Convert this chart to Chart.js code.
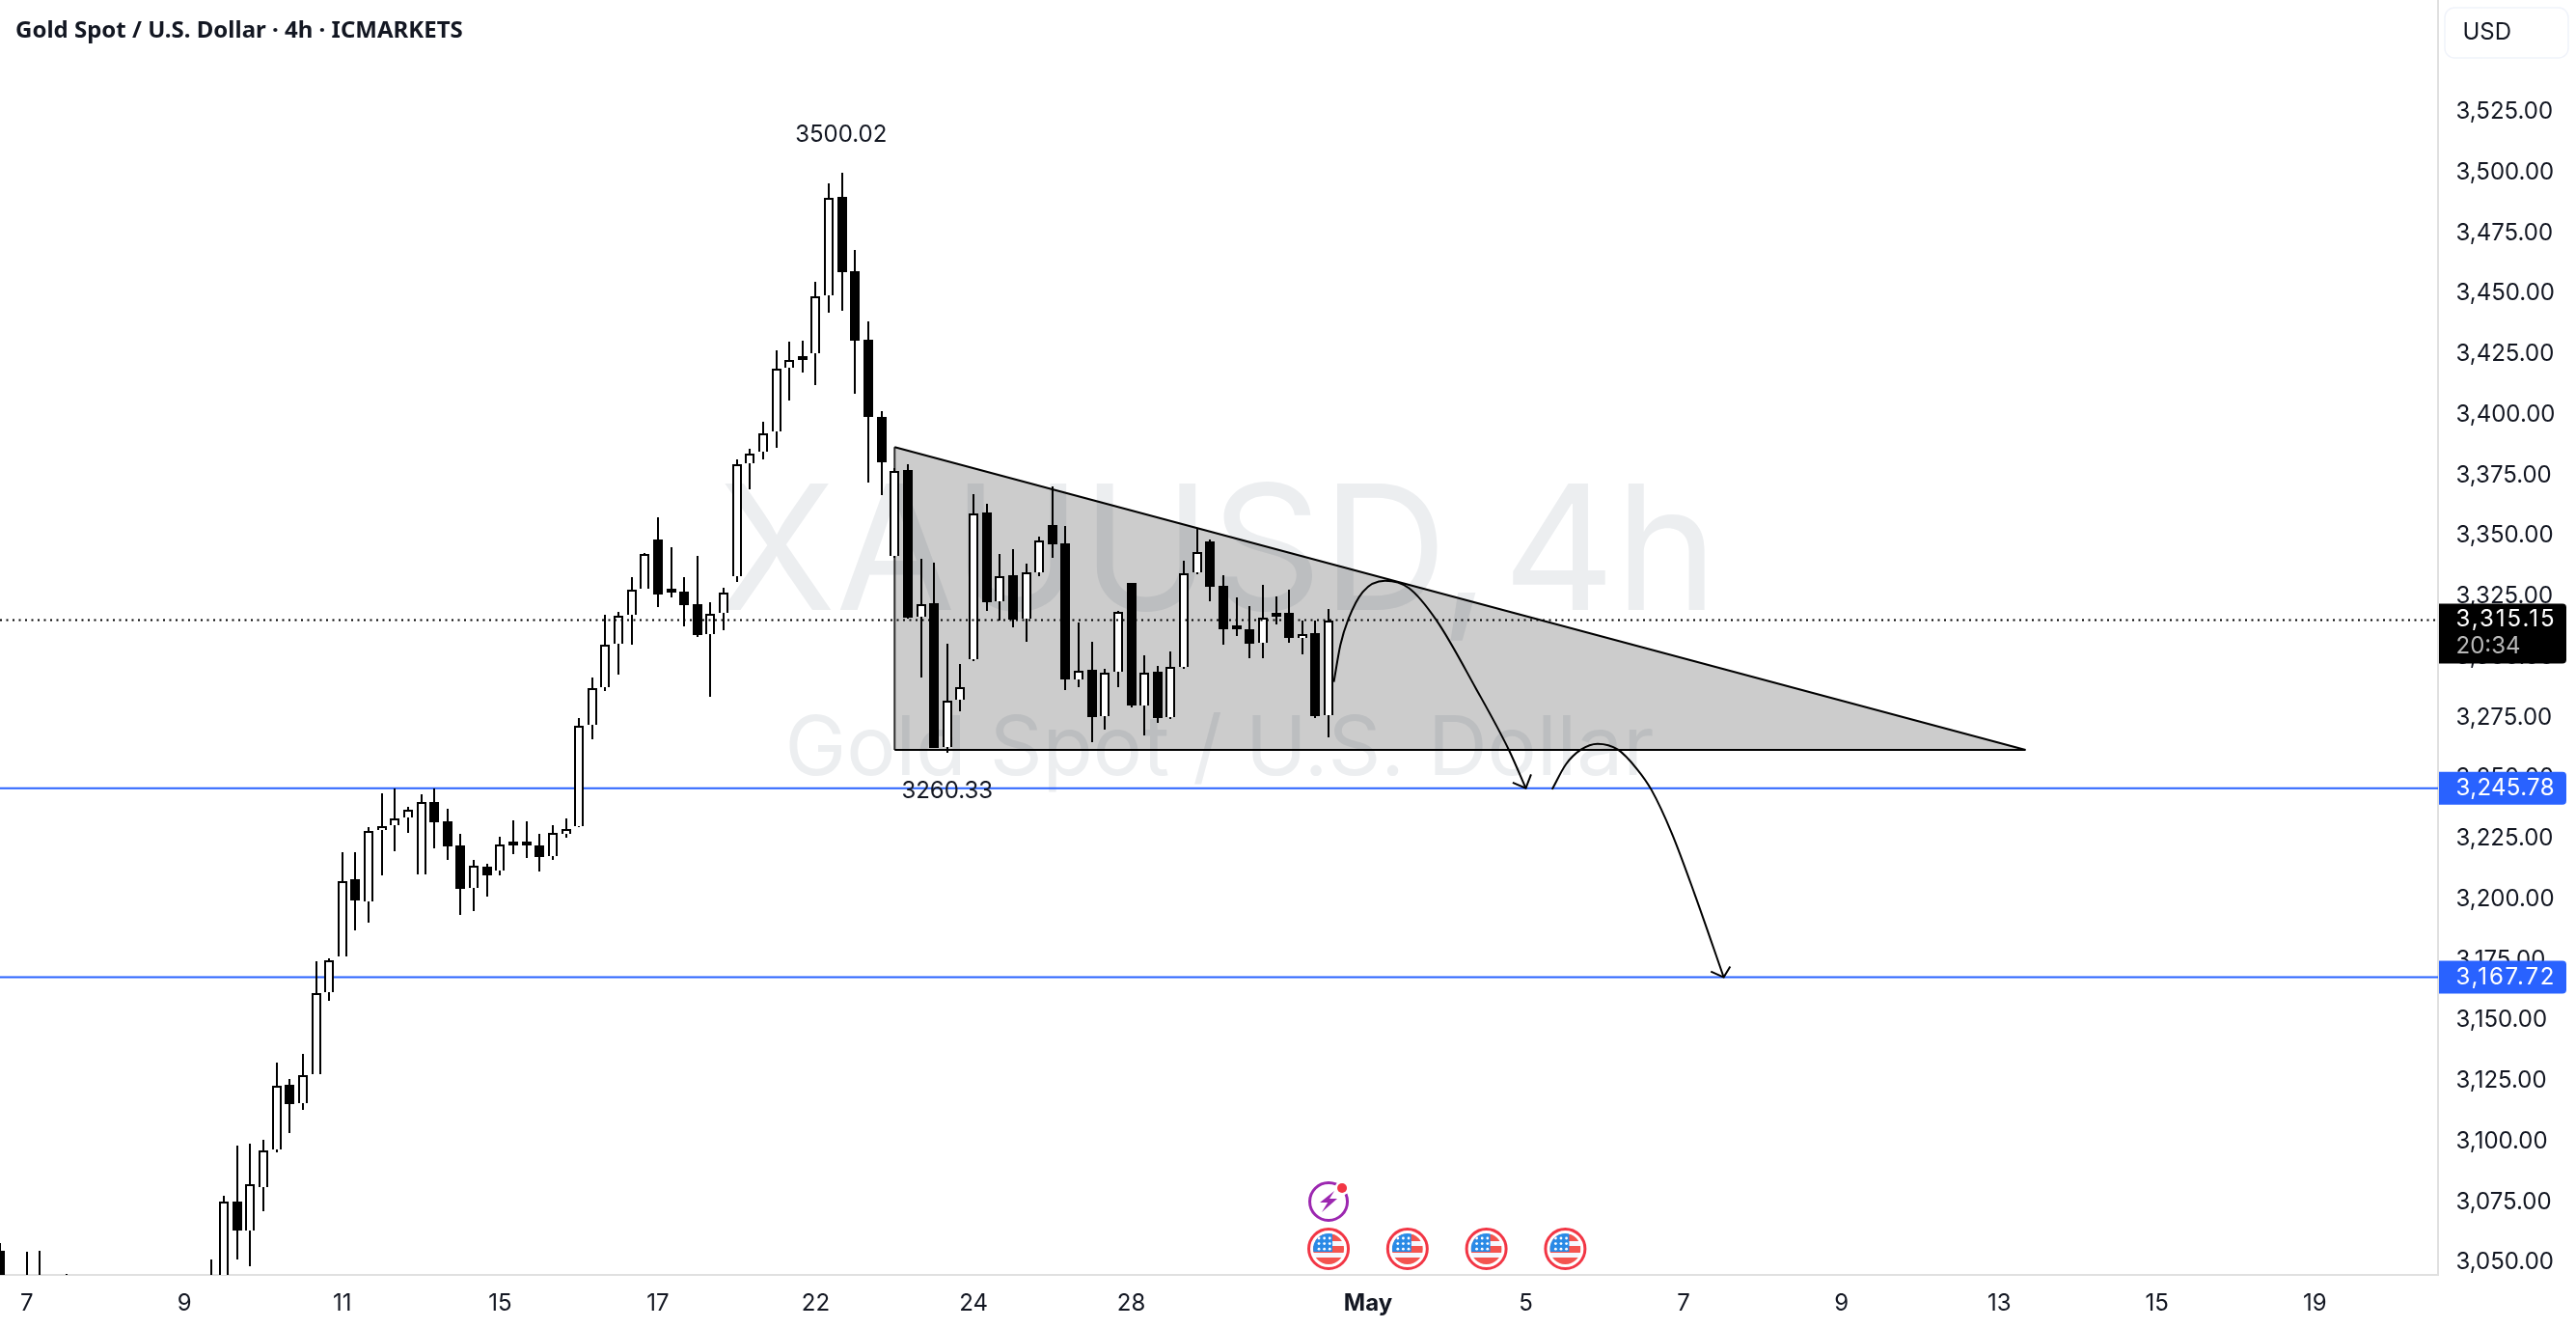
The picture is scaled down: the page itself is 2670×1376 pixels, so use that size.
<!DOCTYPE html>
<html>
<head>
<meta charset="utf-8">
<title>XAUUSD 4h</title>
<script src="https://cdn.jsdelivr.net/npm/chart.js@4"></script>
<style>
  html, body { margin: 0; padding: 0; background: #fff; }
  canvas { display: block; }
</style>
</head>
<body>
<canvas id="chart" width="2670" height="1376"></canvas>
<script>
// 4h candles, bar number = position in the array. null = bar sits below the visible price range
const opens = [3054.8,null,3030,3042,null,3040,null,null,null,null,null,null,null,null,null,null,3030,3035,3075.0,3063.2,3081.2,3096.6,3123.4,3115.8,3127.8,3161.4,3176.2,3208.3,3199.2,3228.5,3230.5,3233.7,3210.0,3240.2,3231.9,3222.1,3204.5,3213.3,3211.9,3223.8,3223.8,3222.1,3217.7,3226.8,3230.2,3271.8,3287.4,3305.3,3317.4,3328.0,3348.3,3327.2,3326.8,3321.6,3309.4,3318.0,3333.2,3379.8,3384.6,3393.0,3419.2,3424.0,3425.2,3449.2,3489.9,3459.2,3430.9,3399.0,3341.7,3377.0,3316.6,3322.0,3262.8,3282.3,3299.0,3359.5,3322.9,3333.6,3315.8,3334.8,3354.3,3346.7,3290.7,3294.5,3275.5,3293.9,3330.4,3279.9,3293.7,3275.0,3295.9,3334.8,3347.5,3329.2,3311.7,3311.3,3305.7,3317.1,3318.1,3307.7,3309.7,3275.9];
const highs = [3058.0,null,3054.5,3054.8,null,3045.4,null,null,null,null,null,null,null,null,null,null,3051.4,3077.6,3098.3,3099.1,3100.8,3132.3,3125.7,3136.1,3174.4,3175.7,3219.2,3219.5,3229.9,3243.8,3245.5,3237.9,3243.1,3245.5,3237.4,3227.1,3216.2,3214.5,3225.6,3232.5,3232.1,3226.9,3230.5,3233.2,3274.8,3291.5,3317.3,3318.5,3332.9,3342.7,3357.6,3345.2,3332.9,3341.7,3322.4,3328.4,3381.5,3385.8,3396.9,3426.5,3430.1,3430.5,3454.8,3495.5,3500.02,3468.0,3438.5,3401.4,3378.0,3379.5,3340.5,3338.9,3305.3,3297.0,3367.2,3363.2,3342.3,3344.5,3338.4,3349.5,3370.2,3353.9,3314.2,3306.2,3294.9,3318.8,3330.4,3300.5,3296.3,3302.1,3339.6,3353.0,3348.3,3333.7,3324.4,3320.8,3329.7,3324.8,3327.7,3314.9,3314.9,3319.7];
const lows = [3032.5,null,3026,3028,null,3030,null,null,null,null,null,null,null,null,null,null,3025,3030,3051.2,3048.4,3071.0,3095.6,3103.4,3113.0,3127.8,3158.0,3176.2,3187.2,3190.3,3209.8,3219.8,3227.4,3210.0,3221.0,3216.3,3193.6,3195.2,3201.0,3209.9,3218.7,3217.1,3211.5,3216.3,3225.5,3229.7,3266.0,3286.0,3292.7,3305.1,3328.0,3320.6,3324.5,3312.6,3308.3,3283.6,3311.1,3331.0,3369.3,3381.6,3386.4,3405.8,3417.4,3412.3,3442.2,3443.0,3408.7,3372.1,3366.9,3341.0,3315.8,3291.6,3262.4,3260.33,3277.7,3298.1,3319.1,3314.9,3312.2,3306.2,3333.4,3341.0,3286.3,3287.6,3264.8,3270.1,3287.6,3279.2,3267.7,3272.9,3274.2,3294.9,3333.9,3323.1,3305.1,3308.6,3299.6,3299.6,3313.5,3305.9,3301.2,3274.6,3266.9];
const closes = [3037.3,null,3042,3036,null,3036,null,null,null,null,null,null,null,null,null,null,3042,3075.0,3063.2,3082.1,3096.3,3122.8,3115.3,3127.5,3161.2,3174.6,3207.5,3199.6,3228.3,3230.2,3233.4,3236.9,3240.0,3231.7,3221.8,3204.2,3213.7,3209.9,3222.4,3222.3,3222.3,3217.5,3227.2,3229.1,3271.7,3287.2,3305.1,3317.1,3327.8,3342.3,3325.8,3326.6,3321.5,3309.1,3317.9,3326.7,3379.6,3384.0,3392.4,3419.1,3422.7,3422.7,3449.0,3489.6,3458.8,3430.7,3399.0,3380.3,3376.9,3316.2,3321.9,3262.4,3282.0,3287.5,3359.3,3322.7,3333.4,3315.4,3335.0,3348.2,3346.6,3290.8,3294.3,3275.3,3293.6,3318.4,3280.0,3293.5,3274.9,3296.0,3334.5,3343.4,3329.1,3311.5,3311.3,3305.5,3316.3,3316.7,3307.9,3309.4,3275.7,3315.15];

const xTickBars = [2,14,26,38,50,62,74,86,104,116,128,140,152,164,176];
const xTickLabels = ['7','9','11','15','17','22','24','28','May','5','7','9','13','15','19'];
const yTicks = [3525,3500,3475,3450,3425,3400,3375,3350,3325,3300,3275,3250,3225,3200,3175,3150,3125,3100,3075,3050];

const lastPrice = 3315.15;
const countdown = '20:34';
const levels = [3245.78, 3167.72];
const highBar = 64;
const lowBar = 72;
const eventBars = [101,107,113,119];

// descending triangle corners: bar, price
const triBars = [68,154];
const triTop = [3386.6,3261.6];
const triBottom = [3261.6,3261.6];

// projected swings with their arrowheads
const swing1Bars = [101.4,101.9,102.5,103.6,105.3,107.1,109.2,112.2,114.7,116.0];
const swing1Prices = [3289.6,3304.9,3315.5,3326.8,3331.4,3328.4,3315.1,3287.0,3261.7,3245.78];
const head1Bars = [115.0,116.0,116.4];
const head1Prices = [3248.1,3245.78,3251.5];
const swing2Bars = [118.0,119.06,120.2,121.46,123.0,124.45,125.55,127.1,128.85,131.05];
const swing2Prices = [3245.3,3255.7,3261.7,3264.1,3261.7,3253.7,3245.1,3227.2,3201.9,3167.72];
const head2Bars = [130.07,131.05,131.54];
const head2Prices = [3170.1,3167.72,3172.1];

const TEXT = '#131722';
const BLUE = '#2962ff';
const FONT = 'Inter, "Liberation Sans", sans-serif';
const pairs = (xs, ys) => xs.map((x, i) => ({ x, y: ys[i] }));

const barIdx = opens.map((o, i) => i).filter(i => opens[i] !== null);
const wicks = barIdx.map(i => ({ x: i, y: [lows[i], highs[i]] }));
const bodies = barIdx.map(i => ({ x: i, y: [opens[i], closes[i]] }));
const bodyFill = barIdx.map(i => closes[i] >= opens[i] ? '#ffffff' : '#000000');

const XMIN = -0.032, XMAX = 185.37;

function lineSet(data, extra) {
  return Object.assign({ type: 'line', data, borderColor: '#000', borderWidth: 2, pointRadius: 0, fill: false }, extra);
}

const datasets = [
  lineSet(pairs(triBars, triTop), { order: 20, fill: { target: 1 }, backgroundColor: 'rgba(0,0,0,0.2)' }),
  lineSet(pairs(triBars, triBottom), { order: 20 }),
  lineSet(pairs([triBars[0], triBars[0]], [triTop[0], triBottom[0]]), { order: 20, borderColor: '#333' }),
  lineSet(pairs([XMIN, XMAX], [levels[0], levels[0]]), { order: 15, borderColor: BLUE }),
  lineSet(pairs([XMIN, XMAX], [levels[1], levels[1]]), { order: 15, borderColor: BLUE }),
  { type: 'bar', data: wicks, backgroundColor: '#000', barThickness: 2, inflateAmount: 0, grouped: false, order: 10 },
  { type: 'bar', data: bodies, backgroundColor: bodyFill, borderColor: '#000', borderWidth: 2, barThickness: 10, inflateAmount: 0, minBarLength: 4, grouped: false, order: 9 },
  lineSet(pairs([XMIN, XMAX], [lastPrice, lastPrice]), { order: 5, borderDash: [2, 4.5] }),
  lineSet(pairs(swing1Bars, swing1Prices), { order: 3, cubicInterpolationMode: 'monotone' }),
  lineSet(pairs(head1Bars, head1Prices), { order: 3 }),
  lineSet(pairs(swing2Bars, swing2Prices), { order: 3, cubicInterpolationMode: 'monotone' }),
  lineSet(pairs(head2Bars, head2Prices), { order: 3 })
];

// big faint symbol text behind everything
const watermark = {
  id: 'watermark',
  beforeDatasetsDraw(chart) {
    const ctx = chart.ctx;
    ctx.save();
    ctx.fillStyle = '#eceef0';
    ctx.textAlign = 'center';
    ctx.textBaseline = 'middle';
    ctx.font = '180px ' + FONT;
    ctx.wordSpacing = '-37px';
    ctx.fillText('XAUUSD, 4h', 1262, 578);
    ctx.wordSpacing = '0px';
    ctx.font = '85.5px ' + FONT;
    ctx.fillText('Gold Spot / U.S. Dollar', 1264, 777);
    ctx.restore();
  }
};

// candles stay on whole pixels so bodies and wicks are crisp
const snapBars = {
  id: 'snapBars',
  beforeDatasetsDraw(chart) {
    chart.getSortedVisibleDatasetMetas().forEach(meta => {
      if (meta.type !== 'bar') return;
      meta.data.forEach(el => {
        el.x = Math.round(el.x);
        el.y = Math.round(el.y);
        el.base = Math.round(el.base);
      });
    });
  }
};

function priceTag(ctx, x, y, w, h, fill) {
  ctx.fillStyle = fill;
  ctx.beginPath();
  ctx.roundRect(x, y, w, h, [0, 4, 4, 0]);
  ctx.fill();
}

// tag prices all span the same width, whichever digits they hold
function tagText(ctx, text, x, y) {
  ctx.letterSpacing = '0px';
  const spare = 102 - ctx.measureText(text).width;
  ctx.letterSpacing = (spare / (text.length - 1)) + 'px';
  ctx.fillText(text, x, y);
  ctx.letterSpacing = '0px';
}

function drawFlag(ctx, x, y) {
  ctx.save();
  ctx.beginPath();
  ctx.arc(x, y, 20.5, 0, Math.PI * 2);
  ctx.fillStyle = '#fff';
  ctx.fill();
  ctx.strokeStyle = '#f23645';
  ctx.lineWidth = 3;
  ctx.stroke();
  ctx.beginPath();
  ctx.arc(x, y, 16, 0, Math.PI * 2);
  ctx.clip();
  ctx.fillStyle = '#f6f7fd';
  ctx.fillRect(x - 16, y - 16, 32, 32);
  ctx.fillStyle = '#f4544f';
  ctx.fillRect(x - 16, y - 15, 32, 7);
  ctx.fillRect(x - 16, y - 3, 32, 7);
  ctx.fillRect(x - 16, y + 9, 32, 7);
  ctx.fillStyle = '#2a8ae6';
  ctx.fillRect(x - 16, y - 16, 20, 19);
  ctx.fillStyle = '#fff';
  for (let r = 0; r < 3; r++) {
    for (let c = 0; c < 3; c++) {
      ctx.beginPath();
      ctx.arc(x - 10 + c * 5.6, y - 11 + r * 5.6, 1.4, 0, Math.PI * 2);
      ctx.fill();
    }
  }
  ctx.restore();
}

function drawBolt(ctx, x, y) {
  ctx.save();
  ctx.strokeStyle = '#9c27b0';
  ctx.lineWidth = 3;
  ctx.beginPath();
  ctx.arc(x, y, 19.5, 0, Math.PI * 2);
  ctx.stroke();
  ctx.fillStyle = '#9c27b0';
  ctx.beginPath();
  ctx.moveTo(x + 6, y - 11);
  ctx.lineTo(x - 9, y + 1);
  ctx.lineTo(x - 1, y + 1);
  ctx.lineTo(x - 7, y + 11);
  ctx.lineTo(x + 9, y - 3);
  ctx.lineTo(x + 1, y - 3);
  ctx.closePath();
  ctx.fill();
  ctx.fillStyle = '#fff';
  ctx.beginPath();
  ctx.arc(x + 14, y - 14, 7.5, 0, Math.PI * 2);
  ctx.fill();
  ctx.fillStyle = '#f23645';
  ctx.beginPath();
  ctx.arc(x + 14, y - 14, 5, 0, Math.PI * 2);
  ctx.fill();
  ctx.restore();
}

// header, high/low notes, axis tags and event icons
const overlay = {
  id: 'overlay',
  afterDraw(chart) {
    const ctx = chart.ctx;
    const xs = chart.scales.x, ys = chart.scales.y;
    ctx.save();
    ctx.textBaseline = 'middle';
    ctx.textAlign = 'left';

    ctx.fillStyle = TEXT;
    ctx.font = 'bold 24px "Noto Sans", sans-serif';
    ctx.fillText('Gold Spot / U.S. Dollar · 4h · ICMARKETS', 16, 32);

    ctx.textAlign = 'center';
    ctx.font = '24px ' + FONT;
    ctx.fillStyle = TEXT;
    ctx.fillText(highs[highBar].toFixed(2), xs.getPixelForValue(highBar) - 1, ys.getPixelForValue(highs[highBar]) - 39);
    ctx.fillText(lows[lowBar].toFixed(2), xs.getPixelForValue(lowBar), ys.getPixelForValue(lows[lowBar]) + 40);

    // currency box
    ctx.strokeStyle = '#f0f3fa';
    ctx.lineWidth = 1.5;
    ctx.beginPath();
    ctx.roundRect(2534, 8, 128, 52, 10);
    ctx.stroke();
    ctx.textAlign = 'left';
    ctx.fillStyle = TEXT;
    ctx.font = '24px ' + FONT;
    ctx.fillText('USD', 2552.5, 34);

    // tags on the price axis
    const tagX = 2528, tagW = 132;
    const lastY = ys.getPixelForValue(lastPrice);
    priceTag(ctx, tagX, lastY - 17, tagW, 62, '#000');
    ctx.fillStyle = '#fff';
    tagText(ctx, lastPrice.toLocaleString('en-US', { minimumFractionDigits: 2 }), 2545.5, lastY - 1);
    ctx.fillStyle = '#b8b8b8';
    ctx.fillText(countdown, 2545.5, lastY + 27);
    levels.forEach(v => {
      const y = ys.getPixelForValue(v);
      priceTag(ctx, tagX, y - 17, tagW, 34, BLUE);
      ctx.fillStyle = '#fff';
      tagText(ctx, v.toLocaleString('en-US', { minimumFractionDigits: 2 }), 2545.5, y);
    });

    // economic calendar markers
    const top = chart.chartArea.bottom;
    eventBars.forEach(b => drawFlag(ctx, xs.getPixelForValue(b), top - 27));
    drawBolt(ctx, xs.getPixelForValue(eventBars[0]), top - 76);
    ctx.restore();
  }
};

new Chart(document.getElementById('chart'), {
  data: { datasets },
  plugins: [watermark, snapBars, overlay],
  options: {
    responsive: false,
    animation: false,
    devicePixelRatio: 1,
    layout: { padding: 0 },
    plugins: { legend: { display: false }, tooltip: { enabled: false }, title: { display: false } },
    scales: {
      x: {
        type: 'linear',
        offset: false,
        min: XMIN,
        max: XMAX,
        grid: { display: false, drawTicks: false, offset: false },
        border: { display: true, color: '#e0e0e0', width: 2 },
        afterBuildTicks: s => { s.ticks = xTickBars.map(value => ({ value })); },
        afterFit: s => { s.height = 55; s.paddingLeft = 0; s.paddingRight = 0; },
        ticks: {
          autoSkip: false,
          maxRotation: 0,
          padding: 15,
          color: TEXT,
          font: c => (c.index === xTickLabels.indexOf('May')
            ? { family: FONT, size: 24, weight: 'bold' }
            : { family: FONT, size: 24 }),
          callback: (v, i) => xTickLabels[i]
        }
      },
      y: {
        type: 'linear',
        position: 'right',
        min: 3044.84,
        max: 3571.155,
        grid: { display: false, drawTicks: false },
        border: { display: true, color: '#e0e0e0', width: 2 },
        afterBuildTicks: s => { s.ticks = yTicks.map(value => ({ value })); },
        afterFit: s => { s.width = 143; s.paddingTop = 0; s.paddingBottom = 0; },
        ticks: {
          autoSkip: false,
          padding: 18.5,
          color: TEXT,
          font: { family: FONT, size: 24 },
          callback: v => v.toLocaleString('en-US', { minimumFractionDigits: 2 })
        }
      }
    }
  }
});
</script>
</body>
</html>
